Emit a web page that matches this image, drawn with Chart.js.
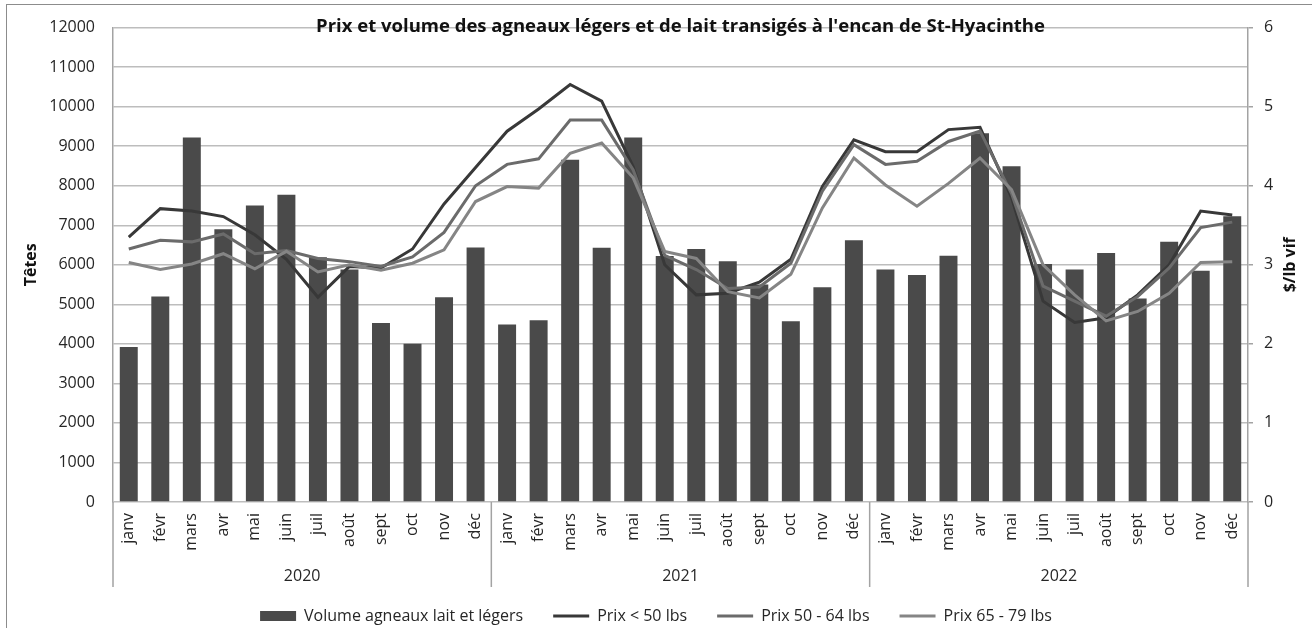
<!DOCTYPE html>
<html lang="fr">
<head>
<meta charset="utf-8">
<title>Prix et volume des agneaux légers et de lait</title>
<script src="https://cdn.jsdelivr.net/npm/chart.js@4.4.1/dist/chart.umd.min.js"></script>
<style>
  html, body { margin: 0; padding: 0; background: #fff; overflow: hidden; }
  #wrap { position: relative; width: 1312px; height: 628px; }
  #cadre { position: absolute; left: 6px; top: 4px; width: 1330px; height: 650px;
           border: 1.5px solid #8c8c8c; pointer-events: none; }
</style>
</head>
<body>
<div id="wrap">
  <canvas id="graph" width="1312" height="628"></canvas>
  <div id="cadre"></div>
</div>
<script>
const mois = ['janv', 'févr', 'mars', 'avr', 'mai', 'juin', 'juil', 'août', 'sept', 'oct', 'nov', 'déc'];
const annees = ['2020', '2021', '2022'];

// Têtes (axe de gauche)
const volume = [
    3920, 5200, 9220, 6900, 7500, 7770, 6190, 5880, 4530, 4000, 5180, 6440,
    4490, 4600, 8660, 6430, 9220, 6220, 6400, 6090, 5500, 4570, 5430, 6620,
    5880, 5740, 6230, 9330, 8490, 6020, 5880, 6300, 5150, 6580, 5850, 7230
];

// $/lb vif (axe de droite)
const prixMoins50 = [
    3.35, 3.71, 3.68, 3.61, 3.38, 3.07, 2.59, 2.98, 2.96, 3.20, 3.77, 4.23,
    4.69, 4.97, 5.28, 5.07, 4.24, 3.00, 2.62, 2.64, 2.78, 3.07, 3.99, 4.58,
    4.43, 4.43, 4.71, 4.74, 3.85, 2.54, 2.27, 2.33, 2.62, 3.00, 3.68, 3.63
];
const prix50a64 = [
    3.20, 3.31, 3.29, 3.39, 3.14, 3.18, 3.08, 3.04, 2.98, 3.10, 3.41, 4.00,
    4.27, 4.34, 4.83, 4.83, 4.20, 3.12, 2.94, 2.70, 2.72, 3.02, 3.93, 4.52,
    4.27, 4.31, 4.56, 4.69, 3.90, 2.73, 2.54, 2.35, 2.60, 2.96, 3.47, 3.54
];
const prix65a79 = [
    3.03, 2.94, 3.01, 3.14, 2.95, 3.17, 2.91, 3.00, 2.93, 3.02, 3.19, 3.80,
    3.99, 3.97, 4.41, 4.54, 4.10, 3.17, 3.08, 2.66, 2.58, 2.88, 3.72, 4.35,
    4.01, 3.74, 4.03, 4.35, 3.95, 3.00, 2.62, 2.29, 2.41, 2.64, 3.03, 3.04
];

const etiquettes = annees.flatMap(() => mois);
const police = '"Open Sans", "DejaVu Sans", sans-serif';
const couleurTexte = '#262626';
const couleurAxe = '#a3a3a3';

// titre, titres d'axes, années et séparateurs de l'axe des x
const habillage = {
    id: 'habillage',
    afterDraw(chart) {
        const ctx = chart.ctx;
        const area = chart.chartArea;
        const x = chart.scales.x;
        const milieuY = (area.top + area.bottom) / 2;

        ctx.save();
        ctx.fillStyle = '#111';
        ctx.font = 'bold 18.5px ' + police;
        ctx.textAlign = 'center';
        ctx.textBaseline = 'alphabetic';
        ctx.fillText("Prix et volume des agneaux légers et de lait transigés à l'encan de St-Hyacinthe",
            (area.left + area.right) / 2, 32);
        ctx.restore();

        ctx.save();
        ctx.fillStyle = '#111';
        ctx.font = 'bold 16px ' + police;
        ctx.textAlign = 'center';
        ctx.textBaseline = 'middle';
        ctx.translate(31, milieuY);
        ctx.rotate(-Math.PI / 2);
        ctx.fillText('Têtes', 0, 0);
        ctx.restore();

        ctx.save();
        ctx.fillStyle = '#111';
        ctx.font = 'bold 16px ' + police;
        ctx.textAlign = 'center';
        ctx.textBaseline = 'middle';
        ctx.translate(1290, milieuY);
        ctx.rotate(-Math.PI / 2);
        ctx.fillText('$/lb vif', 0, 0);
        ctx.restore();

        ctx.save();
        ctx.strokeStyle = couleurAxe;
        ctx.lineWidth = 1.5;
        const bas = 587;
        const limites = [area.left];
        for (let a = 1; a < annees.length; a++) {
            const i = a * mois.length;
            limites.push((x.getPixelForValue(i - 1) + x.getPixelForValue(i)) / 2);
        }
        limites.push(area.right);
        ctx.beginPath();
        limites.forEach(px => {
            ctx.moveTo(px, area.bottom);
            ctx.lineTo(px, bas);
        });
        ctx.stroke();

        ctx.fillStyle = couleurTexte;
        ctx.font = '16px ' + police;
        ctx.textAlign = 'center';
        ctx.textBaseline = 'middle';
        annees.forEach((an, a) => {
            ctx.fillText(an, (limites[a] + limites[a + 1]) / 2, 576);
        });
        ctx.restore();
    }
};

new Chart(document.getElementById('graph'), {
    data: {
        labels: etiquettes,
        datasets: [
            {
                type: 'bar',
                label: 'Volume agneaux lait et légers',
                data: volume,
                backgroundColor: '#4a4a4a',
                borderWidth: 0,
                barPercentage: 0.57,
                categoryPercentage: 1,
                yAxisID: 'y',
                order: 4
            },
            {
                type: 'line',
                label: 'Prix < 50 lbs',
                data: prixMoins50,
                borderColor: '#383838',
                backgroundColor: '#383838',
                borderWidth: 3,
                pointRadius: 0,
                tension: 0,
                yAxisID: 'y1',
                order: 3
            },
            {
                type: 'line',
                label: 'Prix 50 - 64 lbs',
                data: prix50a64,
                borderColor: '#6b6b6b',
                backgroundColor: '#6b6b6b',
                borderWidth: 3,
                pointRadius: 0,
                tension: 0,
                yAxisID: 'y1',
                order: 2
            },
            {
                type: 'line',
                label: 'Prix 65 - 79 lbs',
                data: prix65a79,
                borderColor: '#858585',
                backgroundColor: '#858585',
                borderWidth: 3,
                pointRadius: 0,
                tension: 0,
                yAxisID: 'y1',
                order: 1
            }
        ]
    },
    options: {
        responsive: false,
        animation: false,
        layout: { padding: { top: 26, left: 0, right: 0, bottom: -6 } },
        plugins: {
            tooltip: { enabled: false },
            title: { display: false },
            legend: {
                position: 'bottom',
                labels: {
                    usePointStyle: true,
                    pointStyleWidth: 36,
                    boxHeight: 10,
                    padding: 30,
                    color: couleurTexte,
                    font: { family: police, size: 16 },
                    generateLabels(chart) {
                        return chart.data.datasets.map((ds, i) => ({
                            text: ds.label,
                            fillStyle: ds.backgroundColor,
                            strokeStyle: ds.type === 'line' ? ds.borderColor : ds.backgroundColor,
                            lineWidth: ds.type === 'line' ? 3 : 0,
                            pointStyle: ds.type === 'line' ? 'line' : 'rect',
                            fontColor: couleurTexte,
                            hidden: false,
                            datasetIndex: i
                        }));
                    }
                }
            }
        },
        scales: {
            x: {
                grid: { display: false, drawTicks: false },
                border: { display: false },
                ticks: {
                    autoSkip: false,
                    minRotation: 90,
                    maxRotation: 90,
                    padding: 11,
                    color: couleurTexte,
                    font: { family: police, size: 16 }
                },
                afterFit(scale) { scale.height = 76; }
            },
            y: {
                position: 'left',
                min: 0,
                max: 12000,
                ticks: {
                    stepSize: 1000,
                    padding: 18,
                    color: couleurTexte,
                    font: { family: police, size: 16 },
                    callback: v => String(v)
                },
                grid: { color: '#bdbdbd', lineWidth: 1.5, drawTicks: false },
                border: { display: true, color: couleurAxe, width: 1.5 },
                afterFit(scale) { scale.width = 113; }
            },
            y1: {
                position: 'right',
                min: 0,
                max: 6,
                ticks: {
                    stepSize: 1,
                    padding: 11,
                    color: couleurTexte,
                    font: { family: police, size: 16 }
                },
                grid: { drawOnChartArea: false, drawTicks: true, tickLength: 5, color: couleurAxe, lineWidth: 1.5 },
                border: { display: true, color: couleurAxe, width: 1.5 },
                afterFit(scale) { scale.width = 64; }
            }
        }
    },
    plugins: [habillage]
});
</script>
</body>
</html>
